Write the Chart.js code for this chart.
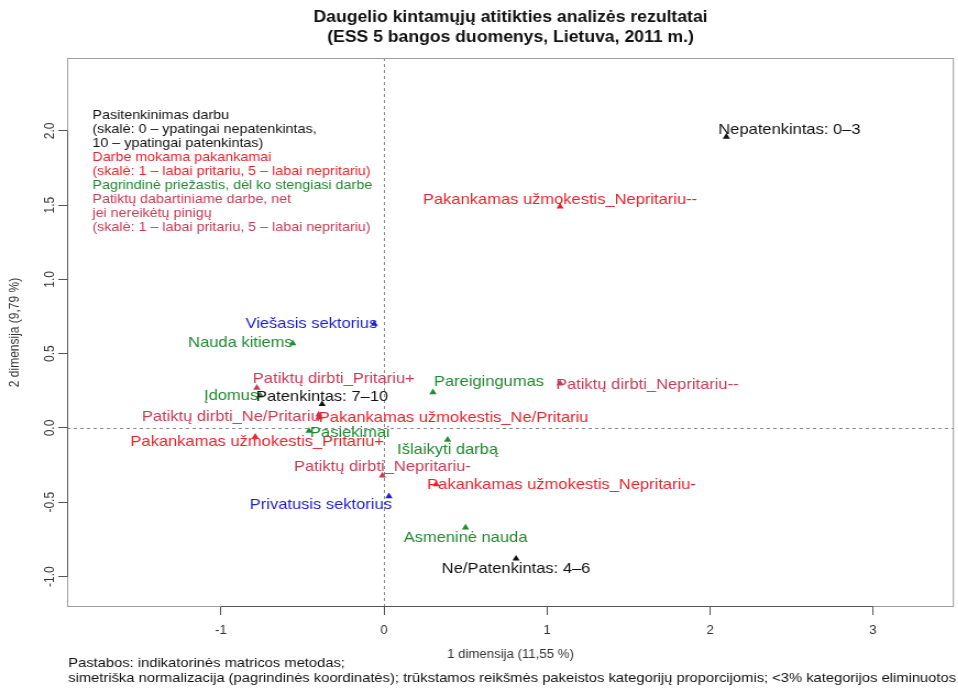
<!DOCTYPE html>
<html>
<head>
<meta charset="utf-8">
<script src="https://cdn.jsdelivr.net/npm/chart.js@4/dist/chart.umd.min.js"></script>
<style>
  html, body { margin: 0; padding: 0; background: #fff; overflow: hidden; }
  #wrap { width: 871px; height: 689px; transform: scaleX(1.1); transform-origin: 0 0; }
  canvas { display: block; }
</style>
</head>
<body>
<div id="wrap"><canvas id="ca" width="871" height="689"></canvas></div>
<script>
// Horizontal stretch applied to the whole canvas by CSS (see #wrap)
const STRETCH = 1.1;

// Pasitenkinimas darbu
const satisfactionCats = ['Nepatenkintas: 0–3', 'Patenkintas: 7–10', 'Ne/Patenkintas: 4–6'];
const satisfactionDim1 = [2.10, -0.38, 0.81];
const satisfactionDim2 = [1.96, 0.16, -0.88];

// Darbe mokama pakankamai
const payCats = ['Pakankamas užmokestis_Nepritariu--', 'Pakankamas užmokestis_Ne/Pritariu',
                 'Pakankamas užmokestis_Pritariu+', 'Pakankamas užmokestis_Nepritariu-'];
const payDim1 = [1.08, -0.40, -0.79, 0.32];
const payDim2 = [1.49, 0.07, -0.06, -0.38];

// Pagrindinė priežastis, dėl ko stengiasi darbe
const reasonCats = ['Nauda kitiems', 'Įdomus', 'Pareigingumas', 'Pasiekimai', 'Išlaikyti darbą', 'Asmeninė nauda'];
const reasonDim1 = [-0.56, -0.76, 0.30, -0.46, 0.39, 0.50];
const reasonDim2 = [0.57, 0.22, 0.24, -0.02, -0.08, -0.67];

// Patiktų dabartiniame darbe, net jei nereikėtų pinigų
const likeCats = ['Patiktų dirbti_Pritariu+', 'Patiktų dirbti_Ne/Pritariu',
                  'Patiktų dirbti_Nepritariu--', 'Patiktų dirbti_Nepritariu-'];
const likeDim1 = [-0.78, -0.40, 1.08, -0.01];
const likeDim2 = [0.27, 0.09, 0.30, -0.32];

// Sektorius
const sectorCats = ['Viešasis sektorius', 'Privatusis sektorius'];
const sectorDim1 = [-0.06, 0.03];
const sectorDim2 = [0.70, -0.46];

// Axis extents and tick step
const dim1Range = [-1.944, 3.496];
const dim2Range = [-1.205, 2.49];
const dim1Step = 1;
const dim2Step = 0.5;

const titleLines = ['Daugelio kintamųjų atitikties analizės rezultatai', '(ESS 5 bangos duomenys, Lietuva, 2011 m.)'];
const dim1Title = '1 dimensija (11,55 %)';
const dim2Title = '2 dimensija (9,79 %)';
const noteLines = [
  'Pastabos: indikatorinės matricos metodas;',
  'simetriška normalizacija (pagrindinės koordinatės); trūkstamos reikšmės pakeistos kategorijų proporcijomis; <3% kategorijos eliminuotos'
];

const COLORS = { black: '#111111', red: '#e8232b', green: '#1f8a2f', pink: '#c83a55', blue: '#1e1ed0' };

const keyLines = [
  ['Pasitenkinimas darbu', 'black'],
  ['(skalė: 0 – ypatingai nepatenkintas,', 'black'],
  ['10 – ypatingai patenkintas)', 'black'],
  ['Darbe mokama pakankamai', 'red'],
  ['(skalė: 1 – labai pritariu, 5 – labai nepritariu)', 'red'],
  ['Pagrindinė priežastis, dėl ko stengiasi darbe', 'green'],
  ['Patiktų dabartiniame darbe, net', 'pink'],
  ['jei nereikėtų pinigų', 'pink'],
  ['(skalė: 1 – labai pritariu, 5 – labai nepritariu)', 'pink']
];

const groups = [
  { cats: satisfactionCats, d1: satisfactionDim1, d2: satisfactionDim2, color: COLORS.black },
  { cats: payCats, d1: payDim1, d2: payDim2, color: COLORS.red },
  { cats: reasonCats, d1: reasonDim1, d2: reasonDim2, color: COLORS.green },
  { cats: likeCats, d1: likeDim1, d2: likeDim2, color: COLORS.pink },
  { cats: sectorCats, d1: sectorDim1, d2: sectorDim2, color: COLORS.blue }
];

// Where each category label sits relative to its marker: [align, dx, dy] in screen px
const labelPlacement = {
  'Nepatenkintas: 0–3': ['left', -8, -7],
  'Patenkintas: 7–10': ['center', 0, -7],
  'Ne/Patenkintas: 4–6': ['center', 0, 10],
  'Pakankamas užmokestis_Nepritariu--': ['center', 0, -7],
  'Pakankamas užmokestis_Ne/Pritariu': ['left', 0, 0],
  'Pakankamas užmokestis_Pritariu+': ['center', 2, 5],
  'Pakankamas užmokestis_Nepritariu-': ['left', -9, 0],
  'Nauda kitiems': ['right', 0, 0],
  'Įdomus': ['right', -2, 1],
  'Pareigingumas': ['left', 1, -10],
  'Pasiekimai': ['left', 1, 2],
  'Išlaikyti darbą': ['center', 0, 10],
  'Asmeninė nauda': ['center', 0, 10],
  'Patiktų dirbti_Pritariu+': ['left', -4, -9],
  'Patiktų dirbti_Ne/Pritariu': ['right', 1, 2],
  'Patiktų dirbti_Nepritariu--': ['left', -4, 1],
  'Patiktų dirbti_Nepritariu-': ['center', 0, -9],
  'Viešasis sektorius': ['right', 3, 0],
  'Privatusis sektorius': ['right', 3, 9]
};

const FONT = '"Liberation Sans", Arial, Helvetica, sans-serif';

const caDecor = {
  id: 'caDecor',
  beforeDatasetsDraw(chart) {
    const { ctx, chartArea: a, scales: { x, y } } = chart;
    ctx.save();
    // dotted reference lines through the origin
    ctx.strokeStyle = '#8c8c8c';
    ctx.lineWidth = 1;
    ctx.setLineDash([3, 3]);
    const x0 = Math.round(x.getPixelForValue(0)) + 0.5;
    const y0 = Math.round(y.getPixelForValue(0)) + 0.5;
    ctx.beginPath();
    ctx.moveTo(x0, a.top); ctx.lineTo(x0, a.bottom);
    ctx.moveTo(a.left, y0); ctx.lineTo(a.right, y0);
    ctx.stroke();
    ctx.setLineDash([]);
    // plot frame
    ctx.strokeStyle = '#9c9c9c';
    ctx.strokeRect(a.left + 0.5, a.top + 0.5, a.right - a.left - 1, a.bottom - a.top - 1);
    // axis lines spanning first to last tick
    ctx.strokeStyle = '#555555';
    const xt = x.ticks, yt = y.ticks;
    ctx.beginPath();
    ctx.moveTo(x.getPixelForValue(xt[0].value), a.bottom - 0.5);
    ctx.lineTo(x.getPixelForValue(xt[xt.length - 1].value), a.bottom - 0.5);
    ctx.moveTo(a.left + 0.5, y.getPixelForValue(yt[0].value));
    ctx.lineTo(a.left + 0.5, y.getPixelForValue(yt[yt.length - 1].value));
    ctx.stroke();
    ctx.restore();
  },
  afterDatasetsDraw(chart) {
    const { ctx, scales: { x, y } } = chart;
    ctx.save();
    ctx.font = '15px ' + FONT;
    ctx.textBaseline = 'middle';
    groups.forEach(g => {
      ctx.fillStyle = g.color;
      g.cats.forEach((name, i) => {
        const [align, dx, dy] = labelPlacement[name] || ['center', 0, 0];
        ctx.textAlign = align;
        ctx.fillText(name, x.getPixelForValue(g.d1[i]) + dx / STRETCH, y.getPixelForValue(g.d2[i]) + dy);
      });
    });
    ctx.restore();
  },
  afterDraw(chart) {
    const { ctx, chartArea: a } = chart;
    ctx.save();
    // title
    ctx.fillStyle = '#111';
    ctx.font = 'bold 16px ' + FONT;
    ctx.textAlign = 'center';
    ctx.textBaseline = 'middle';
    const cx = (a.left + a.right) / 2;
    ctx.fillText(titleLines[0], cx, 18);
    ctx.fillText(titleLines[1], cx, 38);
    // key text in the upper left corner
    ctx.font = '13px ' + FONT;
    ctx.textAlign = 'left';
    keyLines.forEach(([txt, col], i) => {
      ctx.fillStyle = COLORS[col];
      ctx.fillText(txt, a.left + 23, 115 + i * 14);
    });
    // notes under the axis
    ctx.fillStyle = '#111';
    ctx.font = '13.4px ' + FONT;
    ctx.fillText(noteLines[0], a.left + 1, 663);
    ctx.fillText(noteLines[1], a.left + 1, 678);
    ctx.restore();
  }
};

const datasets = groups.map(g => ({
  data: g.d1.map((v, i) => ({ x: v, y: g.d2[i] })),
  pointStyle: 'triangle',
  pointRadius: 3.8,
  pointHoverRadius: 3.8,
  backgroundColor: g.color,
  borderColor: g.color,
  borderWidth: 0,
  showLine: false
}));

new Chart(document.getElementById('ca'), {
  type: 'scatter',
  data: { datasets },
  options: {
    responsive: false,
    animation: false,
    events: [],
    layout: { padding: { top: 58, right: 1, bottom: 0, left: 0 } },
    plugins: { legend: { display: false }, tooltip: { enabled: false }, title: { display: false } },
    scales: {
      x: {
        type: 'linear',
        min: dim1Range[0], max: dim1Range[1],
        afterFit: s => { s.height = 82; },
        border: { display: false },
        grid: { drawOnChartArea: false, drawTicks: true, tickLength: 8, tickColor: '#555', color: '#555' },
        ticks: {
          stepSize: dim1Step, includeBounds: false, color: '#333', padding: 8,
          font: { family: FONT, size: 12 },
          callback: v => String(v)
        },
        title: {
          display: true, text: dim1Title, color: '#333',
          font: { family: FONT, size: 12 }, padding: { top: 0, bottom: 27 }
        }
      },
      y: {
        type: 'linear',
        min: dim2Range[0], max: dim2Range[1],
        afterFit: s => { s.width = 61; },
        border: { display: false },
        grid: { drawOnChartArea: false, drawTicks: true, tickLength: 8, tickColor: '#555', color: '#555' },
        ticks: {
          stepSize: dim2Step, includeBounds: false, color: '#333', padding: -3,
          minRotation: 90, maxRotation: 90, crossAlign: 'center',
          font: { family: FONT, size: 12 },
          callback: v => v.toFixed(1)
        },
        title: {
          display: true, text: dim2Title, color: '#333',
          font: { family: FONT, size: 12 }, padding: { top: 6, bottom: 0 }
        }
      }
    }
  },
  plugins: [caDecor]
});
</script>
</body>
</html>
